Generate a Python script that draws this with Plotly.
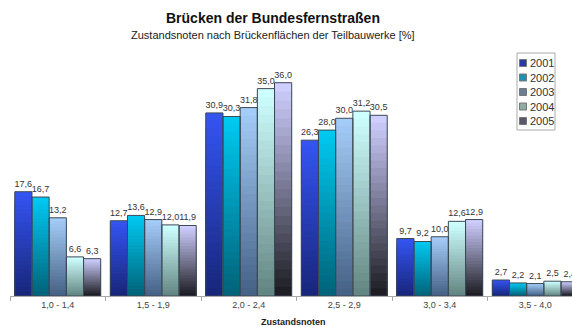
import plotly.graph_objects as go

# Condition-grade classes (Zustandsnoten) and shares of bridge area [%]
categories = ["1,0 - 1,4", "1,5 - 1,9", "2,0 - 2,4", "2,5 - 2,9", "3,0 - 3,4", "3,5 - 4,0"]
years = ["2001", "2002", "2003", "2004", "2005"]
v2001 = [17.6, 12.7, 30.9, 26.3, 9.7, 2.7]
v2002 = [16.7, 13.6, 30.3, 28.0, 9.2, 2.2]
v2003 = [13.2, 12.9, 31.8, 30.0, 10.0, 2.1]
v2004 = [6.6, 12.0, 35.0, 31.2, 12.6, 2.5]
v2005 = [6.3, 11.9, 36.0, 30.5, 12.9, 2.4]
series = [v2001, v2002, v2003, v2004, v2005]

# gradient colours per series: top, bottom, legend swatch
top_colors = [(52, 84, 240), (0, 200, 240), (164, 204, 248), (206, 255, 255), (206, 206, 255)]
bottom_colors = [(24, 38, 124), (0, 100, 122), (70, 98, 134), (100, 134, 130), (30, 30, 36)]
swatch_colors = ["#2a3aa4", "#2090aa", "#6a7c94", "#90aca2", "#58586c"]

N_STEPS = 24
BAR_W = 0.18
GROUP_START = -0.45

W, H = 572, 327
M_L, M_R, M_T, M_B = 10, 0, 40, 31
PLOT_W = W - M_L - M_R
PLOT_H = H - M_T - M_B


def lerp(c1, c2, t):
    return "rgb({},{},{})".format(*[round(a + (b - a) * t) for a, b in zip(c1, c2)])


def fmt(v):
    return f"{v:.1f}".replace(".", ",")


def px(xp):
    # page pixel -> paper x
    return (xp - M_L) / PLOT_W


def py(yp):
    # page pixel -> paper y
    return (H - M_B - yp) / PLOT_H


fig = go.Figure()

# vertical gradient per bar: progressively shorter, darker bars drawn over each other
for j, vals in enumerate(series):
    off = GROUP_START + j * BAR_W
    for k in range(N_STEPS):
        frac = (N_STEPS - k) / N_STEPS
        fig.add_trace(go.Bar(
            x=categories, y=[v * frac for v in vals],
            width=BAR_W, offset=off,
            marker=dict(color=lerp(top_colors[j], bottom_colors[j], k / (N_STEPS - 1)),
                        line=dict(width=0)),
            showlegend=False, hoverinfo="skip",
        ))

# outlines + value labels on top of everything
for j, (year, vals) in enumerate(zip(years, series)):
    off = GROUP_START + j * BAR_W
    fig.add_trace(go.Bar(
        x=categories, y=vals, width=BAR_W, offset=off,
        marker=dict(color="rgba(0,0,0,0)", line=dict(color="#3c4856", width=1)),
        text=[fmt(v) for v in vals], textposition="outside", constraintext="none",
        textfont=dict(size=9, color="#333333", family="Liberation Sans, Arial"),
        cliponaxis=False, showlegend=False, name=year,
    ))

# legend box
shapes = [dict(type="rect", xref="paper", yref="paper",
               x0=px(517), x1=px(555), y0=py(130), y1=py(53),
               line=dict(color="#aaaaaa", width=1), fillcolor="white", layer="above")]
annotations = []
for j, year in enumerate(years):
    yc = 63 + j * 14.5
    shapes.append(dict(type="rect", xref="paper", yref="paper",
                       x0=px(519.5), x1=px(526.5), y0=py(yc + 3.5), y1=py(yc - 3.5),
                       line=dict(color="#777777", width=1), fillcolor=swatch_colors[j],
                       layer="above"))
    annotations.append(dict(text=year, xref="paper", yref="paper",
                            x=px(527.5), y=py(yc), xanchor="left", yanchor="middle",
                            showarrow=False, font=dict(size=11, color="#333333")))

annotations += [
    dict(text="<b>Brücken der Bundesfernstraßen</b>", xref="paper", yref="paper",
         x=px(273), y=py(18), xanchor="center", yanchor="middle",
         showarrow=False, font=dict(size=14, color="#111111")),
    dict(text="Zustandsnoten nach Brückenflächen der Teilbauwerke [%]", xref="paper", yref="paper",
         x=px(273), y=py(35), xanchor="center", yanchor="middle",
         showarrow=False, font=dict(size=11, color="#222222")),
    dict(text="<b>Zustandsnoten</b>", xref="paper", yref="paper",
         x=px(293), y=py(322), xanchor="center", yanchor="middle",
         showarrow=False, font=dict(size=9, color="#222222")),
]

fig.update_layout(
    width=W, height=H,
    margin=dict(l=M_L, r=M_R, t=M_T, b=M_B, autoexpand=False),
    barmode="overlay",
    showlegend=False,
    paper_bgcolor="white", plot_bgcolor="white",
    font=dict(family="Liberation Sans, Arial", color="#333333"),
    xaxis=dict(
        type="category", range=[-0.5, -0.5 + PLOT_W / 95.5],
        showline=True, linecolor="#aaaaaa", linewidth=1,
        ticks="outside", tickson="boundaries", ticklen=4, tickcolor="#aaaaaa",
        tickfont=dict(size=9, color="#444444"),
        showgrid=False, zeroline=False,
    ),
    yaxis=dict(range=[0, PLOT_H / 5.925], visible=False, showgrid=False, zeroline=False),
    shapes=shapes,
    annotations=annotations,
)

fig.write_html("out.html")
